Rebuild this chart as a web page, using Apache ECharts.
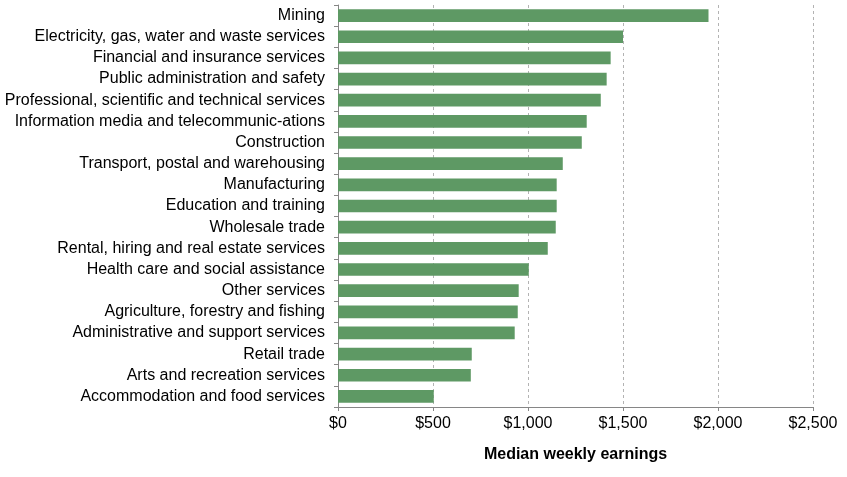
<!DOCTYPE html>
<html>
<head>
<meta charset="utf-8">
<script src="https://cdn.jsdelivr.net/npm/echarts@6/dist/echarts.min.js"></script>
<style>
  html, body { margin: 0; padding: 0; background: #fff; }
  #chart { width: 847px; height: 477px; }
</style>
</head>
<body>
<div id="chart"></div>
<script>
// industries, top to bottom as shown
const industries = [
  "Mining",
  "Electricity, gas, water and waste services",
  "Financial and insurance services",
  "Public administration and safety",
  "Professional, scientific and technical services",
  "Information media and telecommunic-ations",
  "Construction",
  "Transport, postal and warehousing",
  "Manufacturing",
  "Education and training",
  "Wholesale trade",
  "Rental, hiring and real estate services",
  "Health care and social assistance",
  "Other services",
  "Agriculture, forestry and fishing",
  "Administrative and support services",
  "Retail trade",
  "Arts and recreation services",
  "Accommodation and food services"
];
const earnings = [
  1950, 1500, 1435, 1414, 1383, 1309, 1283, 1183, 1151, 1151,
  1146, 1104, 1004, 951, 946, 930, 704, 699, 504
];
const xTicks = [0, 500, 1000, 1500, 2000, 2500];

const chart = echarts.init(document.getElementById("chart"));

const option = {
  animation: false,
  textStyle: { fontFamily: "Liberation Sans, Arial, sans-serif" },
  grid: {
    left: 338,
    right: 34,
    top: 5,
    bottom: 70,
  },
  xAxis: {
    type: "value",
    min: xTicks[0],
    max: xTicks[xTicks.length - 1],
    interval: 500,
    name: "Median weekly earnings",
    nameLocation: "middle",
    nameGap: 40,
    nameTextStyle: {
      fontWeight: "bold",
      fontSize: 16,
      color: "#000",
    },
    axisLine: { show: true, lineStyle: { color: "#868686", width: 1 } },
    axisTick: { show: true, length: 4, lineStyle: { color: "#868686" } },
    axisLabel: {
      fontSize: 16,
      color: "#000",
      margin: 9,
      formatter: (v) => "$" + v.toLocaleString("en-US"),
    },
    splitLine: {
      show: true,
      lineStyle: { color: "#b3b3b3", type: [3, 3], width: 1 },
    },
  },
  yAxis: {
    type: "category",
    data: industries,
    inverse: true,
    axisLine: { show: true, lineStyle: { color: "#868686", width: 1 } },
    axisTick: { show: true, length: 4, lineStyle: { color: "#868686" } },
    axisLabel: {
      fontSize: 16,
      color: "#000",
      margin: 13,
      interval: 0,
    },
  },
  series: [
    {
      name: "Median weekly earnings",
      type: "bar",
      data: earnings,
      barCategoryGap: "40%",
      itemStyle: { color: "#5e9964" },
    },
  ],
};

chart.setOption(option);
</script>
</body>
</html>
